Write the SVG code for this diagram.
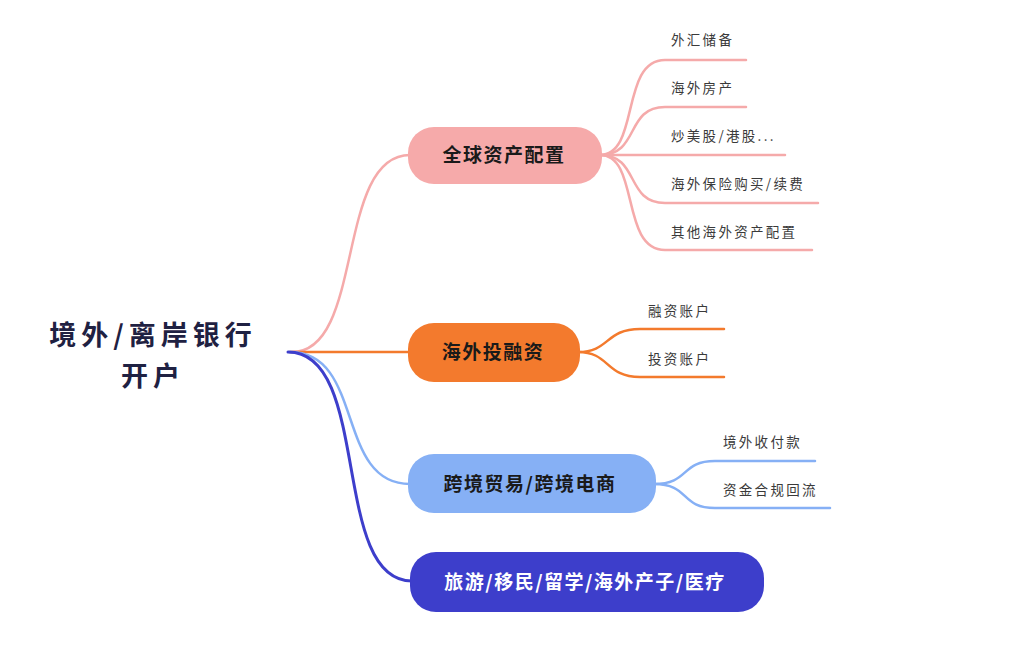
<svg xmlns="http://www.w3.org/2000/svg" width="1024" height="667" viewBox="0 0 1024 667">
<style>
.cjk{font-family:"Noto Sans CJK SC","Noto Sans",sans-serif}
.root{font-size:27px;font-weight:700;fill:#1f2142;letter-spacing:5px}
.nt{font-size:19px;font-weight:700;fill:#1a1a1a;letter-spacing:1.5px}
.ct{font-size:13.5px;fill:#3a3a3a;letter-spacing:2.3px}
.c{fill:none;stroke-linecap:round}
.pink{stroke:#f5aaaa;stroke-width:2.5}
.orange{stroke:#f37a2d;stroke-width:2.5}
.lblue{stroke:#86b0f5;stroke-width:2.5}
.dblue{stroke:#3d3ecb;stroke-width:3}
</style>
<rect width="1024" height="667" fill="#ffffff"/>
<g id="connectors">
<path class="c pink" d="M292,352 C365,352 335,155 410,155"/>
<path class="c orange" d="M290,352 L410,352"/>
<path class="c lblue" d="M290,352 C365,352 335,484 410,484"/>
<path class="c dblue" d="M288,352 C372,352 330,581 412,581"/>
<path class="c pink" d="M600,155 C640,155 620,60 665,60 L746,60"/>
<path class="c pink" d="M600,155 C640,155 625,107 665,107 L746,107"/>
<path class="c pink" d="M600,155 L785,155"/>
<path class="c pink" d="M600,155 C640,155 625,203 665,203 L818,203"/>
<path class="c pink" d="M600,155 C640,155 620,250 665,250 L812,250"/>
<path class="c orange" d="M578,352 C610,352 605,329 640,329 L724,329"/>
<path class="c orange" d="M578,352 C610,352 605,377 640,377 L724,377"/>
<path class="c lblue" d="M654,484 C690,484 680,461 715,461 L815,461"/>
<path class="c lblue" d="M654,484 C690,484 680,508 715,508 L830,508"/>
</g>
<g id="root">
<text class="cjk root" x="153" y="345" text-anchor="middle">境外/离岸银行</text>
<text class="cjk root" x="153" y="386" text-anchor="middle">开户</text>
</g>
<g id="node-global">
<rect x="408" y="127" width="194" height="57" rx="26" fill="#f6aaaa"/>
<text class="cjk nt" x="504" y="162" text-anchor="middle">全球资产配置</text>
</g>
<g id="node-invest">
<rect x="408" y="323" width="172" height="59" rx="26" fill="#f37a2d"/>
<text class="cjk nt" x="493" y="359" text-anchor="middle">海外投融资</text>
</g>
<g id="node-trade">
<rect x="408" y="454" width="248" height="59" rx="26" fill="#86b0f5"/>
<text class="cjk nt" x="530" y="491" text-anchor="middle">跨境贸易/跨境电商</text>
</g>
<g id="node-travel">
<rect x="410" y="552" width="354" height="60" rx="26" fill="#3d3ecb"/>
<text class="cjk nt" x="585" y="589" text-anchor="middle" style="fill:#ffffff">旅游/移民/留学/海外产子/医疗</text>
</g>
<g id="leaf-1"><text class="cjk ct" x="671" y="45">外汇储备</text></g>
<g id="leaf-2"><text class="cjk ct" x="671" y="93">海外房产</text></g>
<g id="leaf-3"><text class="cjk ct" x="671" y="141">炒美股/港股...</text></g>
<g id="leaf-4"><text class="cjk ct" x="671" y="189">海外保险购买/续费</text></g>
<g id="leaf-5"><text class="cjk ct" x="671" y="237">其他海外资产配置</text></g>
<g id="leaf-6"><text class="cjk ct" x="648" y="316">融资账户</text></g>
<g id="leaf-7"><text class="cjk ct" x="648" y="364">投资账户</text></g>
<g id="leaf-8"><text class="cjk ct" x="723" y="447">境外收付款</text></g>
<g id="leaf-9"><text class="cjk ct" x="723" y="495">资金合规回流</text></g>
</svg>
